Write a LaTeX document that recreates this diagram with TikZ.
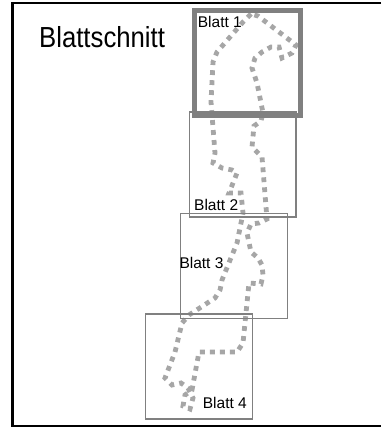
\documentclass[tikz,border=0pt]{standalone}
\usepackage{fontspec}
\setmainfont{Liberation Sans}
\definecolor{dotgray}{HTML}{A6A6A6}
\definecolor{boxgray}{HTML}{808080}
\tikzset{
  sheet/.style={draw=boxgray,line width=1.1pt,fill=none,outer sep=0pt,inner sep=0pt,anchor=north west},
  sheetthick/.style={draw=boxgray,line width=5pt,fill=none,outer sep=0pt,inner sep=0pt,anchor=north west},
  route/.style={draw=dotgray,line width=4.8pt,dash pattern=on 4.8pt off 5.2pt},
  lab/.style={font=\fontsize{15.5}{18}\selectfont,inner sep=0pt,text=black,anchor=west}
}
\begin{document}
\begin{tikzpicture}[x=1pt,y=-1pt]
\useasboundingbox (0,0) rectangle (381,428);
\fill[white] (0,0) rectangle (381,428);
\draw[black,line width=2.4pt] (381,3) -- (12.5,3) -- (12.5,426) -- (381,426);
\draw[route] (251,14) -- (243,22) -- (217,52) -- (213,62) -- (211,102) -- (215,153) -- (213,163) -- (222,168) -- (232,170) -- (237,173) -- (229,193) -- (241,193) -- (243,213) -- (237,243) -- (222,280) -- (220,290) -- (215,298) -- (189,315) -- (182,323) -- (175,352) -- (165,378) -- (172,385) -- (181,383) -- (188,388) -- (193,398) -- (190,409) -- (183,406) -- (185,395) -- (192,390) -- (199,352) -- (237,352) -- (243,343) -- (249,283) -- (261,284) -- (263,275) -- (262,265) -- (258,258) -- (251,252) -- (247,233) -- (251,224) -- (259,223) -- (267,219) -- (262,157) -- (252,147) -- (254,126) -- (261,121) -- (263,113) -- (257,83) -- (252,68) -- (255,58) -- (262,52) -- (271,47) -- (279,47) -- (282,58) -- (292,53) -- (296,45) -- (258,16) -- cycle;
\node[sheetthick,minimum width=106pt,minimum height=104.5pt] (b1) at (194.5,10.5) {};
\node[sheet,minimum width=106.5pt,minimum height=105pt] (b2) at (189.5,112) {};
\node[sheet,minimum width=106.5pt,minimum height=105pt] (b3) at (180.7,213.3) {};
\node[sheet,minimum width=107pt,minimum height=105pt] (b4) at (145.7,314) {};
\node[lab] (l1) at (197.7,22) {Blatt 1};
\node[lab] (l2) at (194,205) {Blatt 2};
\node[lab] (l3) at (179.3,263) {Blatt 3};
\node[lab] (l4) at (202.7,403) {Blatt 4};
\node[font=\fontsize{29}{32}\selectfont,anchor=west,inner sep=0pt,xscale=0.887] (title) at (39,37.5) {Blattschnitt};
\end{tikzpicture}
\end{document}
